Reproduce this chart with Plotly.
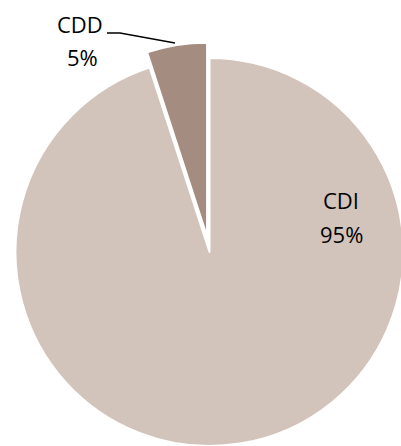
import plotly.graph_objects as go

# Share of the two categories
labels = ["CDI", "CDD"]
values = [95, 5]
colors = ["#D2C4BB", "#A48C80"]
pulls = [0, 0.08]

FIG_W, FIG_H = 419, 504
FONT = "Open Sans"


def px_to_paper(x, y):
    return x / FIG_W, 1 - y / FIG_H


fig = go.Figure(
    go.Pie(
        labels=labels,
        values=values,
        sort=False,
        direction="clockwise",
        rotation=0,
        pull=pulls,
        marker=dict(colors=colors, line=dict(color="white", width=2)),
        textinfo="none",
        hoverinfo="label+percent",
        showlegend=False,
        domain=dict(x=[0, 1], y=[0, 1]),
    )
)

total = sum(values)
pct = {lab: round(100 * v / total) for lab, v in zip(labels, values)}

# Data labels: name on one line, percentage on the next
label_pos = {
    "CDD": [(79.5, 23.5), (82.5, 56.5)],
    "CDI": [(341, 200.5), (341, 233.5)],
}
annotations = []
for lab in labels:
    (x1, y1), (x2, y2) = label_pos[lab]
    for (x, y), txt in (((x1, y1), lab), ((x2, y2), f"{pct[lab]}%")):
        px, py = px_to_paper(x, y)
        annotations.append(
            dict(
                x=px, y=py, xref="paper", yref="paper",
                text=txt, showarrow=False,
                xanchor="center", yanchor="middle",
                font=dict(family=FONT, size=22, color="#000000"),
            )
        )

# Leader line from the CDD label to its slice
pts = [px_to_paper(107, 33), px_to_paper(120, 33), px_to_paper(175, 43)]
path = "M {} {} L {} {} L {} {}".format(*[c for p in pts for c in p])

fig.update_layout(
    width=FIG_W,
    height=FIG_H,
    margin=dict(l=0, r=0, t=0, b=0),
    paper_bgcolor="white",
    plot_bgcolor="white",
    annotations=annotations,
    shapes=[dict(type="path", path=path, xref="paper", yref="paper",
                 line=dict(color="black", width=1.3))],
)

fig.write_html("out.html")
